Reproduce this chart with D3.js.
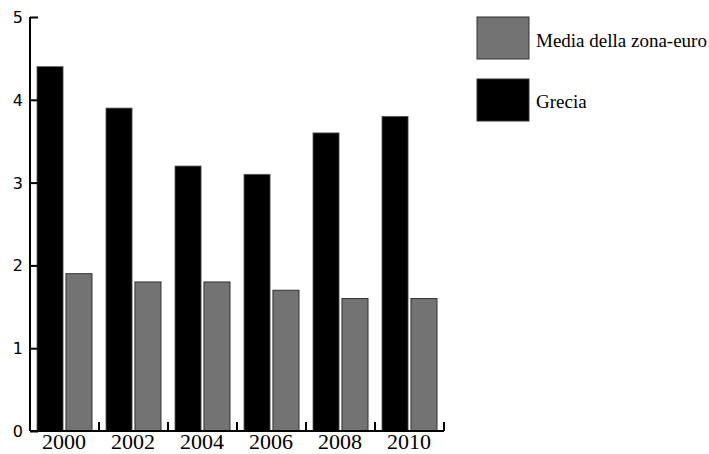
<!DOCTYPE html>
<html>
<head>
    <title>Grecia vs zona-euro</title>
    <script src="https://d3js.org/d3.v7.min.js"></script>
    <style>
        body { margin: 0; background: #fff; }
        svg { display: block; }
    </style>
</head>
<body>
    <div id="chart"></div>

    <script type="text/javascript">
        var years = ["2000", "2002", "2004", "2006", "2008", "2010"];
        var grecia = [4.4, 3.9, 3.2, 3.1, 3.6, 3.8];
        var euro = [1.9, 1.8, 1.8, 1.7, 1.6, 1.6];
        var yTicks = [0, 1, 2, 3, 4, 5];
        var seriesNames = ["Media della zona-euro", "Grecia"];
        var seriesColors = ["#737373", "#000000"];

        var w = 709, h = 454;
        var svg = d3.select("#chart").append("svg")
            .attr("width", w)
            .attr("height", h);

        var x = d3.scaleBand().domain(years).range([30, 444]).paddingInner(0).paddingOuter(0);
        var sub = d3.scaleBand().domain(["Grecia", "euro"]).range([7, 62]).paddingInner(0.1);
        var y = d3.scaleLinear().domain([0, 5]).range([431, 17]);

        var rows = years.map(function(d, i) { return { year: d, grecia: grecia[i], euro: euro[i] }; });

        // bars
        var g = svg.append("g");
        g.selectAll("rect.gr").data(rows).enter().append("rect")
            .attr("class", "gr")
            .attr("x", function(d) { return x(d.year) + sub("Grecia"); })
            .attr("width", sub.bandwidth())
            .attr("y", function(d) { return y(d.grecia); })
            .attr("height", function(d) { return y(0) - y(d.grecia); })
            .style("fill", seriesColors[1])
            .style("stroke", "#555")
            .style("stroke-width", 0.8);

        g.selectAll("rect.eu").data(rows).enter().append("rect")
            .attr("class", "eu")
            .attr("x", function(d) { return x(d.year) + sub("euro"); })
            .attr("width", sub.bandwidth())
            .attr("y", function(d) { return y(d.euro); })
            .attr("height", function(d) { return y(0) - y(d.euro); })
            .style("fill", seriesColors[0])
            .style("stroke", "#333")
            .style("stroke-width", 1);

        // y axis
        var yAxis = d3.axisRight(y).tickValues(yTicks).tickSize(8).tickFormat("");
        var ya = svg.append("g").attr("transform", "translate(30,0)").call(yAxis);
        ya.select(".domain").attr("d", "M0," + y(5) + "V" + y(0));
        ya.selectAll("line, path").style("stroke", "#000").style("stroke-width", 2);

        svg.selectAll("text.ylab").data(yTicks).enter().append("text")
            .attr("class", "ylab")
            .attr("x", 23)
            .attr("y", function(d) { return y(d) + 6; })
            .attr("text-anchor", "end")
            .style("font-family", "'DejaVu Sans', sans-serif")
            .style("font-size", "16px")
            .text(function(d) { return d; });

        // x axis: ticks at group ends, pointing up
        var xa = svg.append("g");
        xa.append("line")
            .attr("x1", 30).attr("x2", 444)
            .attr("y1", y(0)).attr("y2", y(0))
            .style("stroke", "#000").style("stroke-width", 2);
        xa.selectAll("line.xt").data(years).enter().append("line")
            .attr("class", "xt")
            .attr("x1", function(d) { return x(d) + x.bandwidth(); })
            .attr("x2", function(d) { return x(d) + x.bandwidth(); })
            .attr("y1", y(0)).attr("y2", y(0) - 9)
            .style("stroke", "#000").style("stroke-width", 2);
        xa.selectAll("text").data(years).enter().append("text")
            .attr("x", function(d) { return x(d) + 34; })
            .attr("y", 449)
            .attr("text-anchor", "middle")
            .style("font-family", "'Liberation Serif', serif")
            .style("font-size", "22px")
            .text(function(d) { return d; });

        // legend
        var leg = svg.append("g");
        seriesNames.forEach(function(name, i) {
            leg.append("rect")
                .attr("x", 477).attr("y", 17 + i * 62)
                .attr("width", 52).attr("height", 42)
                .style("fill", seriesColors[i])
                .style("stroke", "#333").style("stroke-width", 1);
            leg.append("text")
                .attr("x", 536).attr("y", 47 + i * 61)
                .style("font-family", "'Liberation Serif', serif")
                .style("font-size", "19px")
                .text(name);
        });
    </script>
</body>
</html>
